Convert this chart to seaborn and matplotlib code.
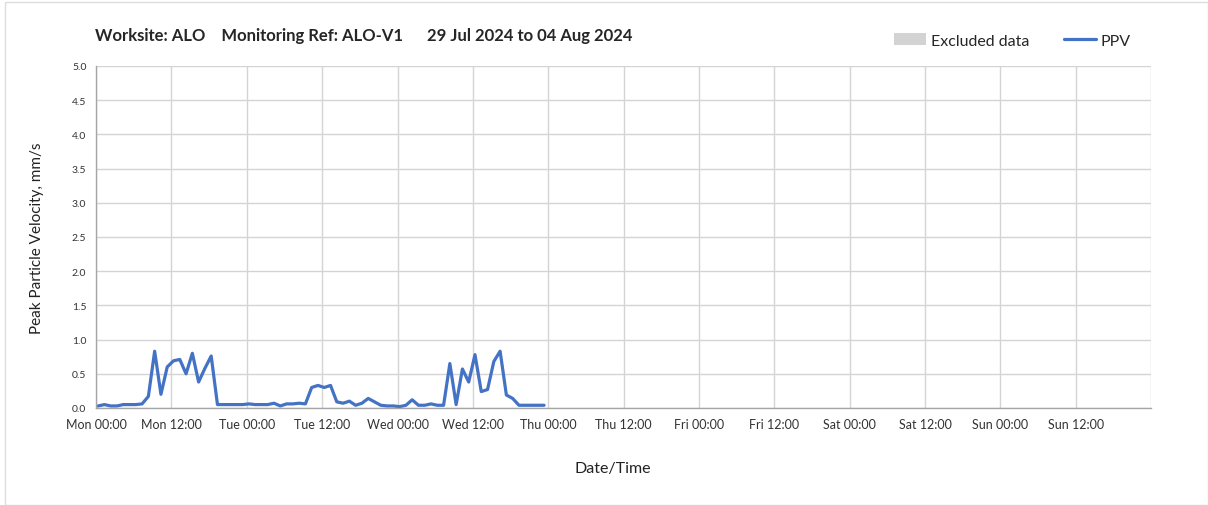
import pandas as pd
import matplotlib.pyplot as plt
import matplotlib.dates as mdates
from matplotlib.patches import Patch, Rectangle
from matplotlib.lines import Line2D
import seaborn as sns

# hourly PPV readings from Mon 29 Jul (mm/s)
ppv = [
    0.03, 0.05, 0.03, 0.03, 0.05, 0.05, 0.05, 0.06, 0.17, 0.83,
    0.20, 0.60, 0.69, 0.71, 0.50, 0.80, 0.38, 0.58, 0.76, 0.05,
    0.05, 0.05, 0.05, 0.05, 0.06, 0.05, 0.05, 0.05, 0.07, 0.03,
    0.06, 0.06, 0.07, 0.06, 0.30, 0.33, 0.30, 0.33, 0.09, 0.07,
    0.10, 0.04, 0.07, 0.14, 0.09, 0.04, 0.03, 0.03, 0.02, 0.04,
    0.12, 0.04, 0.04, 0.06, 0.04, 0.04, 0.65, 0.05, 0.57, 0.38,
    0.78, 0.24, 0.27, 0.68, 0.83, 0.19, 0.14, 0.04, 0.04, 0.04,
    0.04, 0.04,
]
first_reading = "2024-07-29 00:20"
start = "2024-07-29 00:00"
end = "2024-08-05 00:00"
y_ticks = [0.0, 0.5, 1.0, 1.5, 2.0, 2.5, 3.0, 3.5, 4.0, 4.5, 5.0]
title = "Worksite: ALO    Monitoring Ref: ALO-V1      29 Jul 2024 to 04 Aug 2024"

df = pd.DataFrame({
    "time": pd.date_range(first_reading, periods=len(ppv), freq="h"),
    "ppv": ppv,
})

sns.set_style("white")
plt.rcParams["font.family"] = ["Lato", "DejaVu Sans"]

fig = plt.figure(figsize=(12.08, 5.06), dpi=100)
ax = fig.add_axes([0.0795, 0.1917, 0.8735, 0.6759])

sns.lineplot(data=df, x="time", y="ppv", ax=ax, color="#4472C4", linewidth=2.3)

ax.set_xlim(pd.Timestamp(start), pd.Timestamp(end))
ax.set_ylim(0, 5)
ax.set_yticks(y_ticks)
ax.yaxis.set_major_formatter(plt.FuncFormatter(lambda v, p: f"{v:.1f}"))
ax.xaxis.set_major_locator(mdates.HourLocator(byhour=[0, 12]))
ax.xaxis.set_major_formatter(
    plt.FuncFormatter(lambda v, p: "" if v >= mdates.date2num(pd.Timestamp(end))
                      else mdates.num2date(v).strftime("%a %H:%M")))

ax.grid(True, color="#d4d4d4", linewidth=1)
for side in ["top", "right"]:
    ax.spines[side].set_visible(False)
for side in ["left", "bottom"]:
    ax.spines[side].set_color("#a6a6a6")
    ax.spines[side].set_linewidth(1)
ax.tick_params(axis="x", length=4, color="#a6a6a6", labelsize=9, pad=3, labelcolor="#333333")
ax.tick_params(axis="y", length=4, color="#a6a6a6", labelsize=7.5, pad=3, labelcolor="#333333")
ax.set_xlabel("Date/Time", fontsize=11.5, labelpad=24, color="#222222")
ax.set_ylabel("Peak Particle Velocity, mm/s", fontsize=11, labelpad=20, color="#222222")
ax.xaxis.set_label_coords(0.49, -0.155)

fig.text(0.0787, 0.928, title, fontsize=12, fontweight="bold", ha="left", va="center")

handles = [
    Patch(facecolor="#d3d3d3", edgecolor="none", label="Excluded data"),
    Line2D([0], [0], color="#4472C4", linewidth=2.3, label="PPV"),
]
fig.legend(handles=handles, loc="center left", bbox_to_anchor=(0.728, 0.918), ncol=2,
           frameon=False, fontsize=11.5, handlelength=2.0, handleheight=0.8,
           handletextpad=0.3, columnspacing=2.2)

fig.add_artist(Rectangle((0.004, 0.0), 0.996, 0.994, transform=fig.transFigure,
                         fill=False, edgecolor="#dddddd", linewidth=1))

fig.savefig("out.png", dpi=100)
